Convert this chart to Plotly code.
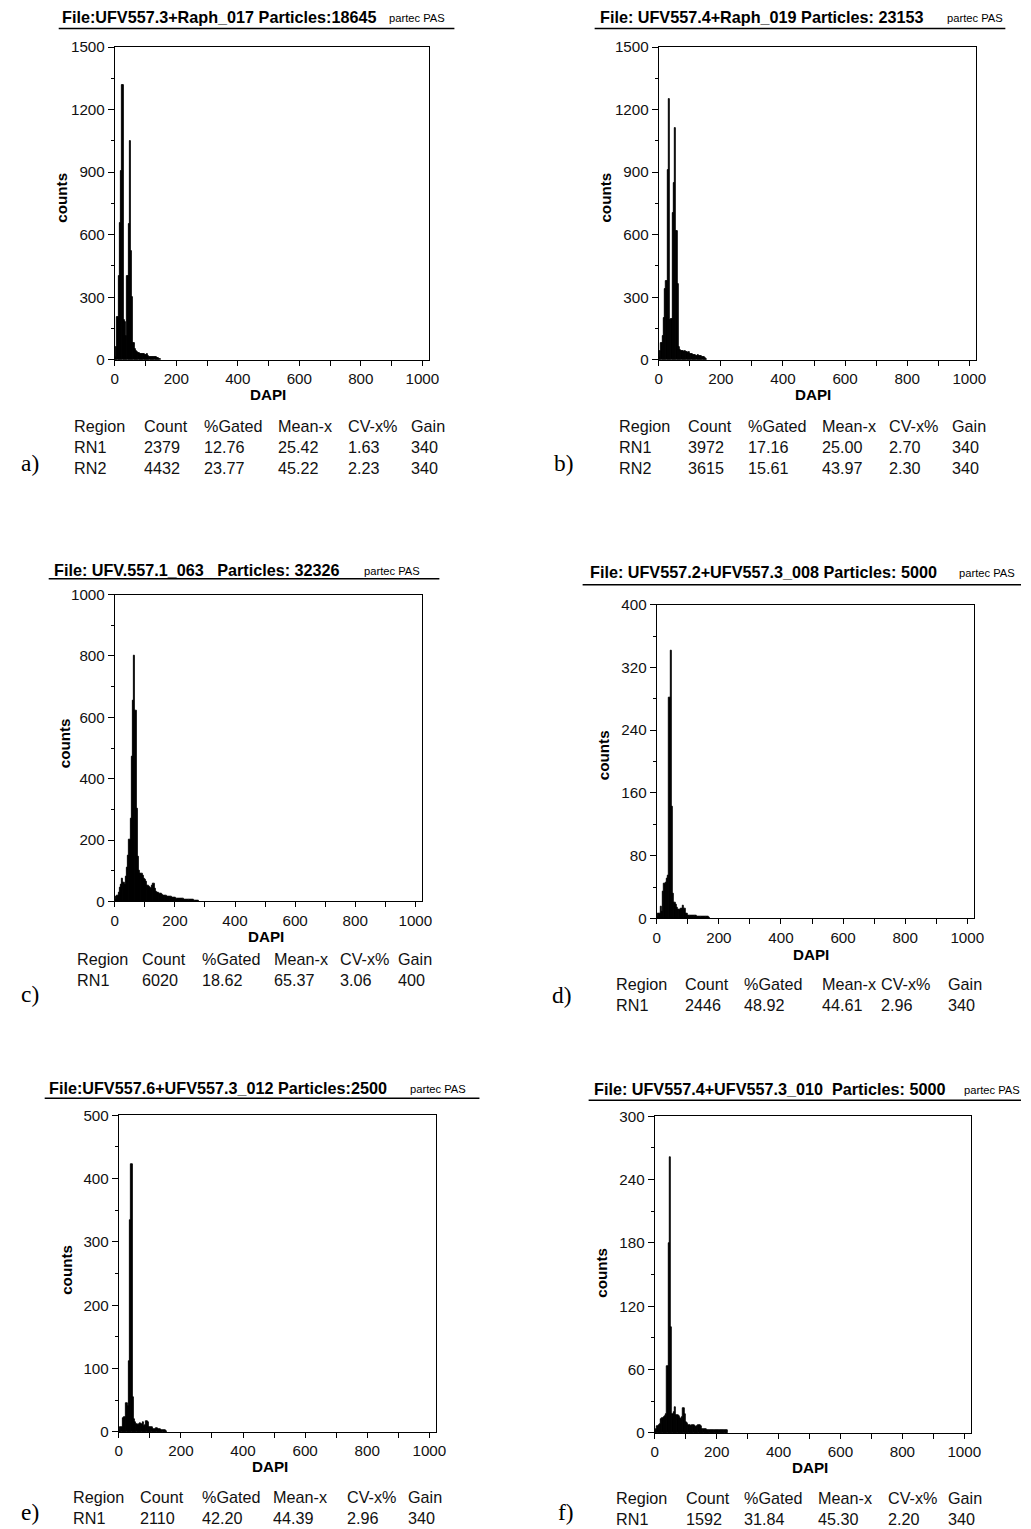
import numpy as np
import plotly.graph_objects as go

W, H = 1031, 1529
# the page is shown with an 8 px body margin and the screenshot is scaled to the window
PAGE_MARGIN = 8
SX = W / (W + 2 * PAGE_MARGIN)
SY = H / (H + 2 * PAGE_MARGIN)
X_NUDGE = 2.5               # small horizontal correction (screen px)
FS = 1 / SX                 # font compensation
BIN_WIDTH = 4
X_MAX = 1023

# ---------------- data (counts per 4-unit DAPI channel, starting at 0) ----------------
a_counts = [15, 60, 207, 403, 654, 905, 1320, 190, 180, 116, 400, 650, 1050, 520, 300, 80,
            50, 40, 35, 33, 30, 30, 28, 26, 25, 24, 28, 18, 15, 14, 15, 12, 12, 13, 10, 8, 6]
b_counts = [15, 40, 80, 116, 200, 340, 380, 909, 1253, 190, 195, 706, 850, 1113, 619, 364, 60,
            45, 42, 40, 38, 40, 36, 34, 36, 28, 26, 24, 25, 22, 20, 21, 18, 20, 17, 15, 14, 10, 6]
c_counts = [5, 15, 18, 30, 45, 55, 75, 60, 55, 80, 110, 150, 200, 270, 471, 656, 802, 623, 303, 145,
            100, 92, 90, 85, 75, 70, 65, 50, 48, 45, 42, 50, 58, 40, 33, 28, 27, 25, 24, 22,
            20, 20, 18, 16, 15, 14, 14, 13, 12, 12, 11, 10, 10, 9, 9, 8, 8, 7, 7, 7,
            6, 6, 6, 5, 5, 5, 4, 4, 4, 3]
d_counts = [2, 6, 6, 15, 8, 34, 44, 46, 51, 55, 282, 341, 142, 32, 20, 17, 14, 11, 11, 12, 13, 16,
            12, 6, 6, 4, 4, 4, 4, 3, 3, 3, 2, 2, 2, 2, 2, 2, 2, 2, 2, 2, 1]
e_counts = [2, 7, 7, 22, 24, 23, 46, 40, 112, 335, 423, 55, 20, 16, 12, 11, 12, 14, 13, 15, 9, 10,
            17, 15, 8, 8, 7, 5, 5, 4, 6, 4, 5, 4, 3, 3, 2, 2, 1]
f_counts = [2, 4, 6, 7, 8, 13, 14, 15, 16, 18, 63, 180, 261, 100, 18, 20, 24, 17, 17, 16, 14, 13,
            15, 23, 18, 10, 9, 7, 7, 6, 7, 7, 6, 5, 6, 7, 7, 6, 4, 4, 4, 4, 3, 3, 3, 3, 3, 3,
            3, 3, 3, 3, 3, 3, 3, 3, 3, 3, 3]

y_max = [1500, 1500, 1000, 400, 500, 300]
y_dtick = [300, 300, 200, 80, 100, 60]
x_tick_vals = [0, 200, 400, 600, 800, 1000]

file_titles = [
    "File:UFV557.3+Raph_017 Particles:18645",
    "File: UFV557.4+Raph_019 Particles: 23153",
    "File: UFV.557.1_063   Particles: 32326",
    "File: UFV557.2+UFV557.3_008 Particles: 5000",
    "File:UFV557.6+UFV557.3_012 Particles:2500",
    "File: UFV557.4+UFV557.3_010  Particles: 5000",
]
brand = "partec PAS"
panel_labels = ["a)", "b)", "c)", "d)", "e)", "f)"]
table_header = ["Region", "Count", "%Gated", "Mean-x", "CV-x%", "Gain"]
a_rows = [["RN1", "2379", "12.76", "25.42", "1.63", "340"],
          ["RN2", "4432", "23.77", "45.22", "2.23", "340"]]
b_rows = [["RN1", "3972", "17.16", "25.00", "2.70", "340"],
          ["RN2", "3615", "15.61", "43.97", "2.30", "340"]]
c_rows = [["RN1", "6020", "18.62", "65.37", "3.06", "400"]]
d_rows = [["RN1", "2446", "48.92", "44.61", "2.96", "340"]]
e_rows = [["RN1", "2110", "42.20", "44.39", "2.96", "340"]]
f_rows = [["RN1", "1592", "31.84", "45.30", "2.20", "340"]]

all_counts = [a_counts, b_counts, c_counts, d_counts, e_counts, f_counts]
all_rows = [a_rows, b_rows, c_rows, d_rows, e_rows, f_rows]

# ---------------- layout geometry (screen pixels) ----------------
# (x pixel of DAPI 0, px per DAPI unit, y pixel of top, y pixel of 0)
GEOM = [
    (116, 0.307, 46, 359),
    (659, 0.310, 46, 359),
    (116, 0.300, 594, 901),
    (657, 0.310, 604, 918),
    (120, 0.310, 1115, 1432),
    (655, 0.309, 1116, 1433),
]
# title: (text left x, text center y, brand left x, underline y, underline x0, x1)
TITLE_GEOM = [
    (61, 16, 388, 27.5, 60, 455),
    (598, 16, 945, 27.5, 595, 1005),
    (53, 569, 363, 578, 50, 440),
    (588, 571, 957, 584, 583, 1023),
    (48, 1088, 409, 1098, 46, 480),
    (592, 1089, 962, 1100, 589, 1029),
]
TABLE_COLS = [
    [73, 143, 203, 277, 347, 410],
    [617, 686, 746, 820, 887, 950],
    [76, 141, 201, 273, 339, 397],
    [614, 683, 742, 820, 879, 946],
    [72, 139, 201, 272, 346, 407],
    [614, 684, 742, 816, 886, 946],
]
TABLE_Y0 = [425, 425, 959, 984, 1497, 1498]
LABEL_POS = [(20, 462), (552, 462), (20, 994), (550, 995), (20, 1512), (556, 1512)]
COUNTS_POS = [(63, 197), (606, 197), (66, 743), (604, 755), (67, 1270), (601, 1273)]
DAPI_POS = [(269, 394), (813, 394), (267, 936), (811, 954), (271, 1467), (810, 1468)]


def px(x):
    v = ((x + X_NUDGE) / SX - PAGE_MARGIN) / W
    return min(max(v, 0.0), 1.0)


def py(y):
    v = 1 - (y / SY - PAGE_MARGIN) / H
    return min(max(v, 0.0), 1.0)


def fs(size):
    return round(size * FS, 1)


SANS = "Liberation Sans, Arial, sans-serif"
NARROW = "Liberation Sans Narrow, Liberation Sans, Arial, sans-serif"
SERIF = "Liberation Serif, Times New Roman, serif"

fig = go.Figure()
annotations = []
shapes = []
layout_axes = {}

for i, counts in enumerate(all_counts):
    n = i + 1
    xa = "x" if n == 1 else f"x{n}"
    ya = "y" if n == 1 else f"y{n}"
    x0, sc, yt, yb = GEOM[i]
    centers = np.arange(len(counts)) * BIN_WIDTH + BIN_WIDTH / 2
    fig.add_trace(go.Bar(
        x=centers, y=counts, width=BIN_WIDTH, xaxis=xa, yaxis=ya,
        marker=dict(color="black", line=dict(color="black", width=0.9)),
        showlegend=False, hoverinfo="skip",
    ))
    xk = "xaxis" if n == 1 else f"xaxis{n}"
    yk = "yaxis" if n == 1 else f"yaxis{n}"
    layout_axes[xk] = dict(
        domain=[px(x0), px(x0 + X_MAX * sc)], anchor=ya, range=[0, X_MAX],
        showline=True, linecolor="black", linewidth=1, mirror=True,
        showgrid=False, zeroline=False,
        ticks="outside", ticklen=5, tickcolor="black", tickwidth=1,
        tickvals=x_tick_vals, ticktext=[str(v) for v in x_tick_vals],
        minor=dict(ticks="outside", ticklen=5, tickcolor="black", tickwidth=1,
                   tickvals=[100, 300, 500, 700, 900]),
        tickfont=dict(family=SANS, size=fs(15), color="#111"),
        fixedrange=True,
    )
    ymx = y_max[i]
    dt = y_dtick[i]
    yt_vals = list(range(0, ymx + 1, dt))
    layout_axes[yk] = dict(
        domain=[py(yb), py(yt)], anchor=xa, range=[0, ymx],
        showline=True, linecolor="black", linewidth=1, mirror=True,
        showgrid=False, zeroline=False,
        ticks="outside", ticklen=6, tickcolor="black", tickwidth=1,
        tickvals=yt_vals, ticktext=[str(v) for v in yt_vals],
        minor=dict(ticks="outside", ticklen=3, tickcolor="black", tickwidth=1,
                   tickvals=[v + dt / 2 for v in yt_vals[:-1]]),
        tickfont=dict(family=SANS, size=fs(15), color="#111"),
        fixedrange=True,
    )

    # title + brand + underline
    tx, ty, bx, uy, ux0, ux1 = TITLE_GEOM[i]
    annotations.append(dict(
        x=px(tx), y=py(ty), xref="paper", yref="paper", xanchor="left", yanchor="middle",
        text="<b>" + file_titles[i].replace(" ", "\u00a0") + "</b>", showarrow=False,
        font=dict(family=NARROW, size=fs(16), color="black"),
    ))
    annotations.append(dict(
        x=px(bx), y=py(ty + 1), xref="paper", yref="paper", xanchor="left", yanchor="middle",
        text=brand, showarrow=False, font=dict(family=SANS, size=fs(11), color="black"),
    ))
    shapes.append(dict(type="line", xref="paper", yref="paper",
                       x0=px(ux0), x1=px(ux1), y0=py(uy), y1=py(uy),
                       line=dict(color="black", width=1.5)))

    # axis titles
    cx, cy = COUNTS_POS[i]
    annotations.append(dict(
        x=px(cx), y=py(cy), xref="paper", yref="paper", xanchor="center", yanchor="middle",
        text="<b>counts</b>", textangle=-90, showarrow=False,
        font=dict(family=NARROW, size=fs(15), color="black"),
    ))
    dx, dy = DAPI_POS[i]
    annotations.append(dict(
        x=px(dx), y=py(dy), xref="paper", yref="paper", xanchor="center", yanchor="middle",
        text="<b>DAPI</b>", showarrow=False,
        font=dict(family=NARROW, size=fs(15), color="black"),
    ))

    # stats table
    cols = TABLE_COLS[i]
    rows = [table_header] + all_rows[i]
    for r, row in enumerate(rows):
        for c, cell in enumerate(row):
            annotations.append(dict(
                x=px(cols[c]), y=py(TABLE_Y0[i] + 21 * r), xref="paper", yref="paper",
                xanchor="left", yanchor="middle", text=cell, showarrow=False,
                font=dict(family=SANS, size=fs(16), color="#111"),
            ))

    # panel label
    lx, ly = LABEL_POS[i]
    annotations.append(dict(
        x=px(lx), y=py(ly), xref="paper", yref="paper", xanchor="left", yanchor="middle",
        text=panel_labels[i], showarrow=False,
        font=dict(family=SERIF, size=fs(23), color="black"),
    ))

fig.update_layout(
    width=W, height=H, margin=dict(l=0, r=0, t=0, b=0),
    paper_bgcolor="white", plot_bgcolor="white",
    bargap=0, barmode="overlay",
    annotations=annotations, shapes=shapes,
    **layout_axes,
)

fig.write_html("out.html")
